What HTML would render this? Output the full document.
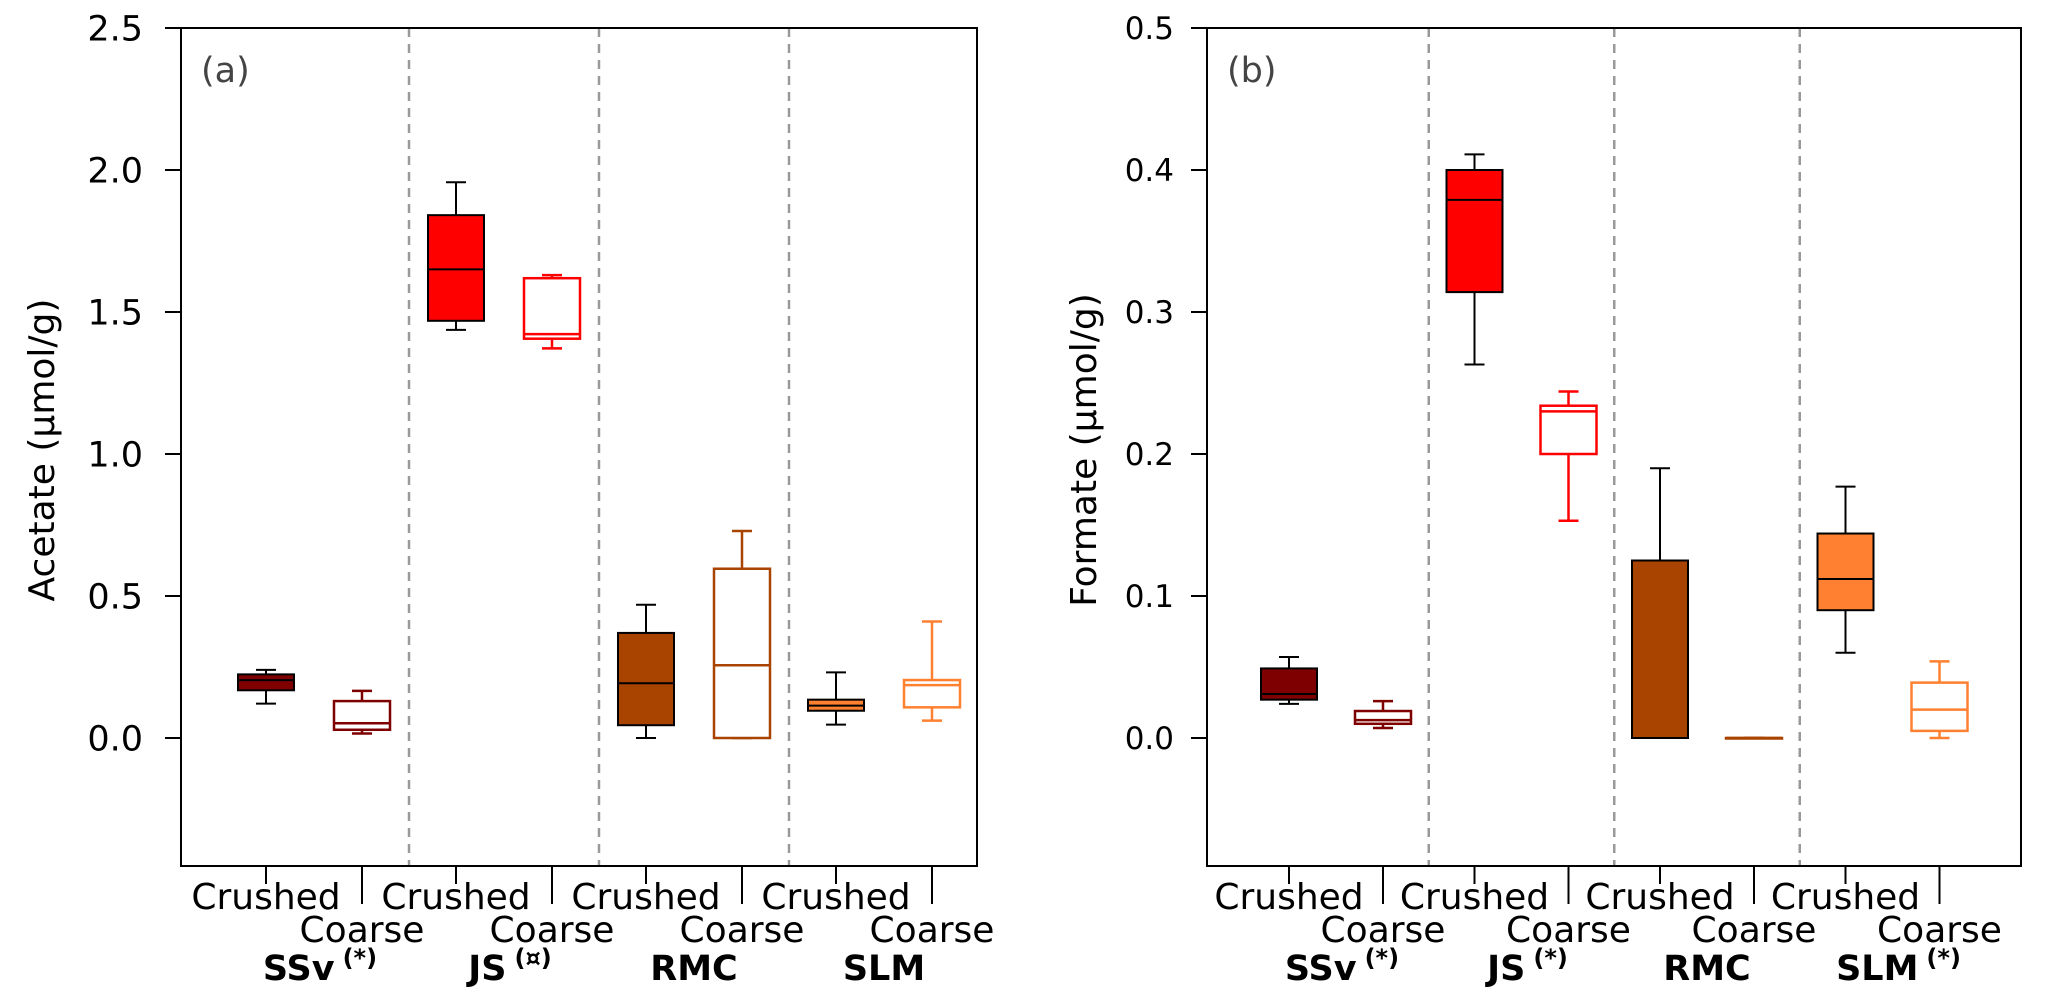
<!DOCTYPE html>
<html><head><meta charset="utf-8"><style>
html,body{margin:0;padding:0;background:#fff}
svg{display:block}
text{font-family:"DejaVu Sans","Liberation Sans",sans-serif}
</style></head><body>
<svg id="chart" width="2067" height="995" viewBox="0 0 2067 995" xmlns="http://www.w3.org/2000/svg"></svg>
<script>
// ---- data ----
const groups = ["SSv", "JS", "RMC", "SLM"];
const groupMarksA = ["(*)", "(\u00a4)", "", ""];
const groupMarksB = ["(*)", "(*)", "", "(*)"];
const treatments = ["Crushed", "Coarse"];
const colors = ["#7f0000", "#ff0000", "#a84300", "#ff8030"];
// order: SSv-cr, SSv-co, JS-cr, JS-co, RMC-cr, RMC-co, SLM-cr, SLM-co
const acetateLow  = [0.121, 0.016, 1.437, 1.372, 0.000, 0.000, 0.047, 0.061];
const acetateQ1   = [0.168, 0.029, 1.469, 1.406, 0.045, 0.000, 0.096, 0.108];
const acetateMed  = [0.204, 0.052, 1.650, 1.422, 0.193, 0.256, 0.114, 0.186];
const acetateQ3   = [0.224, 0.130, 1.841, 1.619, 0.370, 0.596, 0.135, 0.204];
const acetateHigh = [0.240, 0.166, 1.957, 1.630, 0.469, 0.729, 0.231, 0.410];
const formateLow  = [0.024, 0.007, 0.263, 0.153, 0.000, 0.000, 0.060, 0.000];
const formateQ1   = [0.027, 0.010, 0.314, 0.200, 0.000, 0.000, 0.090, 0.005];
const formateMed  = [0.031, 0.0126, 0.379, 0.230, 0.000, 0.000, 0.112, 0.020];
const formateQ3   = [0.049, 0.019, 0.400, 0.234, 0.125, 0.000, 0.144, 0.039];
const formateHigh = [0.057, 0.026, 0.411, 0.244, 0.190, 0.000, 0.177, 0.054];
const ticksA = [0.0, 0.5, 1.0, 1.5, 2.0, 2.5];
const tickLabelsA = ["0.0", "0.5", "1.0", "1.5", "2.0", "2.5"];
const ticksB = [0.0, 0.1, 0.2, 0.3, 0.4, 0.5];
const tickLabelsB = ["0.0", "0.1", "0.2", "0.3", "0.4", "0.5"];

const NS = "http://www.w3.org/2000/svg";
const svg = document.getElementById("chart");
function mk(tag, attrs, parent, txt) {
  const e = document.createElementNS(NS, tag);
  for (const k in attrs) e.setAttribute(k, attrs[k]);
  if (txt !== undefined) e.textContent = txt;
  (parent || svg).appendChild(e);
  return e;
}

function panel(cfg) {
  const g = mk("g", {});
  
  
  const L = cfg.left, R = cfg.right, T = 28, B = 866;
  const y0 = 738, yTop = 28;
  const y = v => y0 - v / cfg.max * (y0 - yTop);
  const xPos = i => cfg.tick1 + Math.floor(i / 2) * cfg.groupStep + (i % 2) * cfg.pairStep;

  for (let k = 1; k < groups.length; k++) {
    const dx = (xPos(2 * k - 1) + xPos(2 * k)) / 2;
    const d = mk("line", {x1: dx, x2: dx, y1: T, y2: B, stroke: "#999", "stroke-width": 2.5, "stroke-dasharray": "9 7"}, g);
    
    
  }
  const f = mk("rect", {x: L, y: T, width: R - L, height: B - T, fill: "none", stroke: "#000", "stroke-width": 2}, g);
  
  
  cfg.ticks.forEach((t, i) => {
    const yy = y(t);
    const tl = mk("line", {x1: L - 16, x2: L, y1: yy, y2: yy, stroke: "#000", "stroke-width": 2}, g);
    
    
    const tx = mk("text", {x: L - cfg.labelGap, y: yy + cfg.tickFont * 0.36, "text-anchor": "end", "font-size": cfg.tickFont, fill: "#000"}, g, cfg.tickLabels[i]);
    
    
  });
  const yt = mk("text", {x: 0, y: 0, "text-anchor": "middle", "font-size": 36, transform: `translate(${cfg.titleX},${(T + B) / 2 + 3}) rotate(-90)`}, g, cfg.title);
  
  
  const pl = mk("text", {x: L + 20, y: 82, "font-size": 35, fill: "#444"}, g, cfg.letter);
  
  

  const bw = 56;
  for (let i = 0; i < 8; i++) {
    const cx = xPos(i), crushed = i % 2 === 0;
    const col = colors[Math.floor(i / 2)];
    const bg = mk("g", {}, g);
    
    
    const stroke = crushed ? "#000" : col;
    const fill = crushed ? col : "#fff";
    const sw = crushed ? 2 : 2.5;
    const lo = y(cfg.low[i]), q1 = y(cfg.q1[i]), md = y(cfg.med[i]), q3 = y(cfg.q3[i]), hi = y(cfg.high[i]);
    mk("line", {x1: cx, x2: cx, y1: hi, y2: q3, stroke: stroke, "stroke-width": sw}, bg);
    mk("line", {x1: cx, x2: cx, y1: q1, y2: lo, stroke: stroke, "stroke-width": sw}, bg);
    mk("line", {x1: cx - 10, x2: cx + 10, y1: hi, y2: hi, stroke: stroke, "stroke-width": sw}, bg);
    mk("line", {x1: cx - 10, x2: cx + 10, y1: lo, y2: lo, stroke: stroke, "stroke-width": sw}, bg);
    mk("rect", {x: cx - bw / 2, y: q3, width: bw, height: Math.max(q1 - q3, 0.5), fill: fill, stroke: stroke, "stroke-width": sw}, bg);
    mk("line", {x1: cx - bw / 2, x2: cx + bw / 2, y1: md, y2: md, stroke: stroke, "stroke-width": sw}, bg);
  }
  for (let i = 0; i < 8; i++) {
    const cx = xPos(i), crushed = i % 2 === 0;
    const xt = mk("line", {x1: cx, x2: cx, y1: B, y2: crushed ? 884 : 904, stroke: "#000", "stroke-width": 2}, g);
    
    
    const lb = mk("text", {x: cx, y: crushed ? 909 : 942, "text-anchor": "middle", "font-size": 36}, g, treatments[i % 2]);
    
    
  }
  groups.forEach((gname, k) => {
    const cx = (xPos(2 * k) + xPos(2 * k + 1)) / 2 + (cfg.marks[k] ? 6 : 0);
    const t = mk("text", {x: cx, y: 980, "text-anchor": "middle", "font-size": 35, "font-weight": "bold"}, g);
    
    
    mk("tspan", {}, t, gname);
    if (cfg.marks[k]) mk("tspan", {dx: 8, dy: -14, "font-size": 24}, t, cfg.marks[k]);
  });
}

panel({name: "acetate-panel", left: 181, right: 977, max: 2.5, ticks: ticksA, tickLabels: tickLabelsA,
  title: "Acetate (\u00b5mol/g)", titleX: 54, letter: "(a)", marks: groupMarksA, tickFont: 35, labelGap: 38,
  tick1: 266, pairStep: 96, groupStep: 190,
  low: acetateLow, q1: acetateQ1, med: acetateMed, q3: acetateQ3, high: acetateHigh});
panel({name: "formate-panel", left: 1207, right: 2021, max: 0.5, ticks: ticksB, tickLabels: tickLabelsB,
  title: "Formate (\u00b5mol/g)", titleX: 1096, letter: "(b)", marks: groupMarksB, tickFont: 31, labelGap: 33,
  tick1: 1289, pairStep: 94, groupStep: 185.5,
  low: formateLow, q1: formateQ1, med: formateMed, q3: formateQ3, high: formateHigh});
</script>
</body></html>
